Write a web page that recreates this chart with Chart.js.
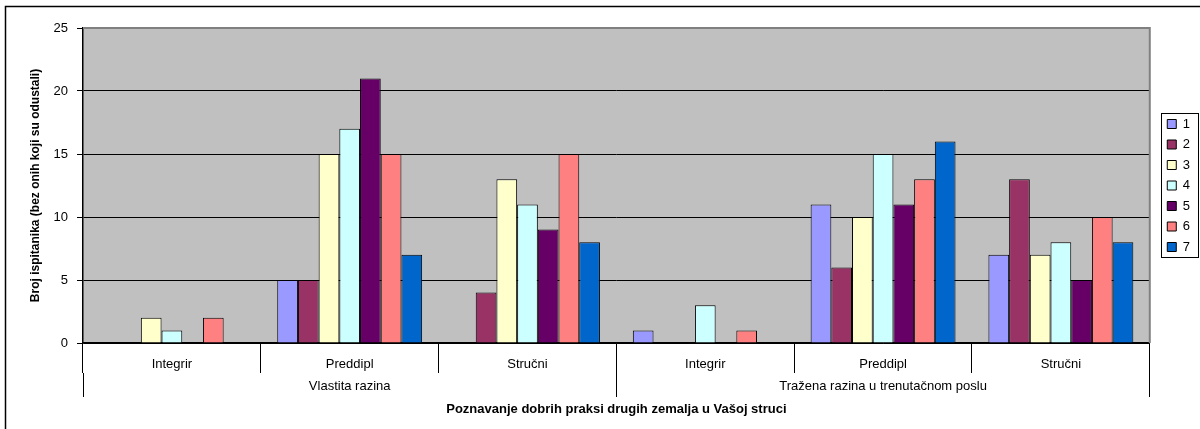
<!DOCTYPE html>
<html>
<head>
<meta charset="utf-8">
<script src="https://cdn.jsdelivr.net/npm/chart.js@4.4.1/dist/chart.umd.min.js"></script>
<style>
  html, body { margin: 0; padding: 0; background: #fff; }
  #wrap { width: 1200px; height: 429px; position: relative; }
</style>
</head>
<body>
<div id="wrap"><canvas id="c" width="1200" height="429"></canvas></div>
<script>
// ---- data ----
const subCategories = ['Integrir', 'Preddipl', 'Stručni', 'Integrir', 'Preddipl', 'Stručni'];
const groupLabels = ['Vlastita razina', 'Tražena razina u trenutačnom poslu'];
const seriesNames = ['1', '2', '3', '4', '5', '6', '7'];
const s1 = [0, 5, 0, 1, 11, 7];
const s2 = [0, 5, 4, 0, 6, 13];
const s3 = [2, 15, 13, 0, 10, 7];
const s4 = [1, 17, 11, 3, 15, 8];
const s5 = [0, 21, 9, 0, 11, 5];
const s6 = [2, 15, 15, 1, 13, 10];
const s7 = [0, 7, 8, 0, 16, 8];
const yTicks = [0, 5, 10, 15, 20, 25];
const yTitle = 'Broj ispitanika (bez onih koji su odustali)';
const xTitle = 'Poznavanje dobrih praksi drugih zemalja u Vašoj struci';

const seriesValues = [s1, s2, s3, s4, s5, s6, s7];
const colors = ['#9999FF', '#993366', '#FFFFCC', '#CCFFFF', '#660066', '#FF8080', '#0066CC'];

const FONT = "'Liberation Sans', Arial, sans-serif";

const bgPlugin = {
  id: 'bg',
  beforeDraw(chart) {
    const ctx = chart.ctx;
    const a = chart.chartArea;
    ctx.save();
    ctx.fillStyle = '#ffffff';
    ctx.fillRect(0, 0, chart.width, chart.height);
    ctx.fillStyle = '#C0C0C0';
    ctx.fillRect(a.left, a.top, a.right - a.left, a.bottom - a.top);
    ctx.strokeStyle = '#000';
    ctx.lineWidth = 1.5;
    ctx.strokeRect(5.5, 6.5, 1210, 440);
    ctx.restore();
  },
  beforeDatasetsDraw(chart) {
    const ctx = chart.ctx;
    const a = chart.chartArea;
    ctx.save();
    ctx.strokeStyle = '#808080';
    ctx.lineWidth = 2;
    ctx.beginPath();
    ctx.moveTo(a.left, a.top);
    ctx.lineTo(a.right, a.top);
    ctx.lineTo(a.right, a.bottom);
    ctx.stroke();
    ctx.restore();
  },
  afterDraw(chart) {
    const lg = chart.legend;
    if (!lg || !lg.legendHitBoxes || !lg.legendHitBoxes.length) return;
    const hb = lg.legendHitBoxes;
    let l = Infinity;
    hb.forEach(h => { l = Math.min(l, h.left); });
    const firstC = hb[0].top + hb[0].height / 2;
    const lastC = hb[hb.length - 1].top + hb[hb.length - 1].height / 2;
    const ctx = chart.ctx;
    ctx.save();
    ctx.strokeStyle = '#000';
    ctx.lineWidth = 1;
    const x0 = Math.round(l - 6) + 0.5;
    const y0 = Math.round(firstC - 11) + 0.5;
    const y1 = Math.round(lastC + 10) + 0.5;
    ctx.strokeRect(x0, y0, 1198.5 - x0, y1 - y0);
    ctx.restore();
  }
};

new Chart(document.getElementById('c'), {
  type: 'bar',
  data: {
    labels: subCategories,
    datasets: seriesValues.map((vals, i) => ({
      label: seriesNames[i],
      data: vals,
      backgroundColor: colors[i],
      borderColor: '#000',
      borderWidth: 1,
      borderSkipped: 'start',
      categoryPercentage: 0.815,
      barPercentage: 1.0,
      xAxisID: 'x',
      yAxisID: 'y'
    }))
  },
  options: {
    responsive: false,
    animation: false,
    devicePixelRatio: 1,
    layout: { padding: { left: 20, top: 28, right: 0, bottom: 0 } },
    plugins: {
      legend: {
        position: 'right',
        align: 'center',
        fullSize: false,
        labels: {
          boxWidth: 9,
          boxHeight: 9,
          padding: 7.5,
          color: '#000',
          font: { family: FONT, size: 13 }
        }
      },
      tooltip: { enabled: false }
    },
    scales: {
      x: {
        type: 'category',
        position: 'bottom',
        weight: 1,
        offset: true,
        grid: { offset: true, drawOnChartArea: false, tickLength: 30, color: '#000', lineWidth: 1 },
        border: { display: true, color: '#000', width: 1.5 },
        ticks: { color: '#000', font: { family: FONT, size: 13 }, padding: -16, maxRotation: 0, autoSkip: false },
        afterFit(scale) { scale.height = 30; }
      },
      x2: {
        type: 'category',
        labels: groupLabels,
        position: 'bottom',
        weight: 2,
        offset: true,
        grid: { offset: true, drawOnChartArea: false, tickLength: 24, color: '#000', lineWidth: 1 },
        border: { display: false },
        ticks: { color: '#000', font: { family: FONT, size: 13 }, padding: -18, maxRotation: 0, autoSkip: false },
        title: {
          display: true,
          text: xTitle,
          color: '#000',
          font: { family: FONT, size: 13, weight: 'bold' },
          padding: { top: 0, bottom: 12 }
        },
        afterFit(scale) { scale.height = 56; }
      },
      y: {
        type: 'linear',
        position: 'left',
        min: yTicks[0],
        max: yTicks[yTicks.length - 1],
        afterBuildTicks(scale) { scale.ticks = yTicks.map(v => ({ value: v })); },
        grid: {
          color: (c) => (c.tick && c.tick.value === 25) ? '#808080' : '#000',
          lineWidth: 1,
          tickLength: 6,
          tickColor: '#000'
        },
        border: { display: true, color: '#000', width: 1.5 },
        ticks: { color: '#000', font: { family: FONT, size: 13 }, padding: 9 },
        title: {
          display: true,
          text: yTitle,
          color: '#000',
          font: { family: FONT, size: 12, weight: 'bold' },
          padding: { top: 8, bottom: 0 }
        },
        afterFit(scale) { scale.width = 63; }
      },
      gap: {
        type: 'linear',
        position: 'right',
        display: true,
        grid: { display: false, drawTicks: false },
        border: { display: false },
        ticks: { display: false },
        afterFit(scale) { scale.width = 10; }
      }
    }
  },
  plugins: [bgPlugin]
});
</script>
</body>
</html>
